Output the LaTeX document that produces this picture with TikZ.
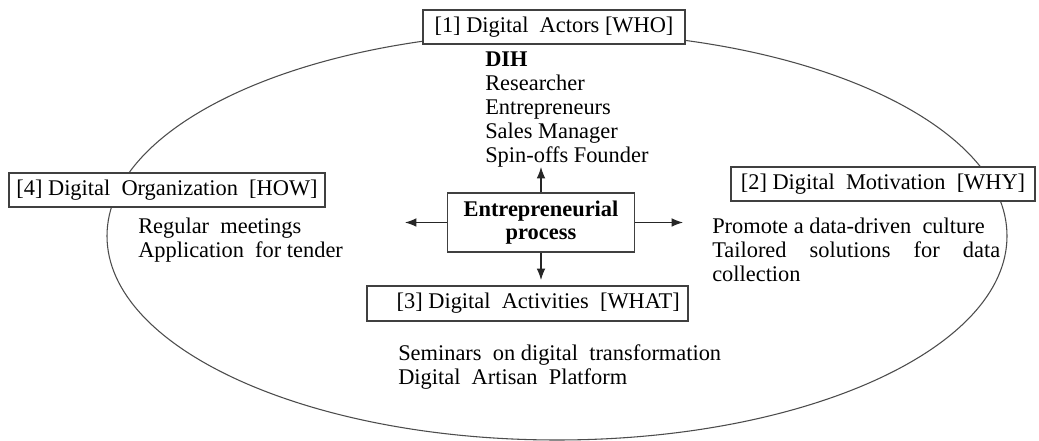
\documentclass[tikz,border=0pt]{standalone}
\usepackage{fontspec}
\setmainfont{Liberation Serif}
\usetikzlibrary{arrows.meta}
\tikzset{
  every node/.style={font=\fontsize{16.8}{18}\selectfont, text=black},
  labelbox/.style={draw=black!75, line width=0.8pt, fill=white, inner sep=0pt, align=center},
  listtext/.style={inner sep=0pt, anchor=west, align=left},
  arr/.style={draw=black!85, line width=0.8pt, -{Latex[length=8.5pt,width=6.5pt]}},
}
\begin{document}
\begin{tikzpicture}[x=0.75pt,y=-0.75pt]
  \fill[white] (0,0) rectangle (1039,441);
  \useasboundingbox (0,0) rectangle (1039,441);
  % outer ellipse
  \draw[black!70, line width=0.8pt] (557,236) ellipse [x radius=337.5pt, y radius=153pt];
  % category boxes
  \node[labelbox, minimum width=196.5pt, minimum height=25.5pt] (who) at (554,27) {[1] Digital~~Actors [WHO]};
  \node[labelbox, minimum width=228pt, minimum height=25.5pt] (why) at (883,184) {[2] Digital~~Motivation~~[WHY]};
  \node[labelbox, minimum width=240.75pt, minimum height=26.25pt] (what) at (527.5,303.5) {\hspace*{16pt}[3] Digital~~Activities~~[WHAT]};
  \node[labelbox, minimum width=237pt, minimum height=25.5pt] (how) at (167,190) {[4] Digital~~Organization~~[HOW]};
  % central box
  \node[labelbox, minimum width=140.25pt, minimum height=44.25pt, font=\fontsize{16.8}{17.3}\selectfont\bfseries] (ep) at (541,222.5) {Entrepreneurial\\process};
  % arrow ends
  \coordinate (up) at (541,167);
  \coordinate (down) at (541,280);
  \coordinate (left) at (405,222.5);
  \coordinate (right) at (683,222.5);
  \draw[arr] (ep.north) -- (up);
  \draw[arr] (ep.south) -- (down);
  \draw[arr] (ep.west) -- (left);
  \draw[arr] (ep.east) -- (right);
  % lists
  \node[listtext] (wholist) at (485,110) {\textbf{DIH}\\Researcher\\Entrepreneurs\\Sales Manager\\Spin-offs Founder};
  \node[listtext] (howlist) at (138,240) {Regular~ meetings\\Application~ for tender};
  \node[listtext] (whylist) at (712,249.5) {Promote a data-driven~ culture\\\makebox[216pt][s]{Tailored solutions for data}\\collection};
  \node[listtext] (whatlist) at (398,367) {Seminars~ on digital~ transformation\\Digital~ Artisan~ Platform};
\end{tikzpicture}
\end{document}
